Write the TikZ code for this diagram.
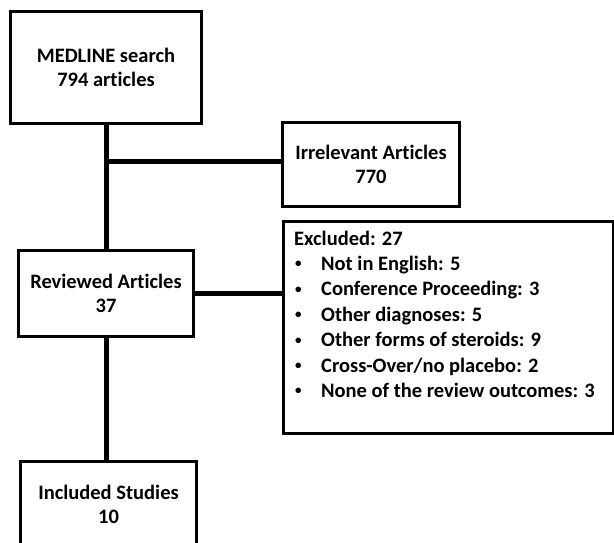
\documentclass[tikz,border=0pt]{standalone}
\usepackage{fontspec}
\setmainfont{Carlito}[Ligatures=NoCommon]
\begin{document}
\begin{tikzpicture}[x=1pt,y=-1pt,
  box/.style={draw=black, line width=1.8pt, fill=white, inner sep=0pt, align=center,
    font=\bfseries\fontsize{20.5}{24.5}\selectfont},
  txt/.style={inner sep=0pt, font=\bfseries\fontsize{20.5}{24.5}\selectfont},
  conn/.style={draw=black, line width=5pt}]
\clip (0,0) rectangle (614,543);
\fill[white] (0,0) rectangle (614,543);
\coordinate (j1) at (106,161);
% boxes
\path (106,67.5) node[box, minimum width=190pt, minimum height=111pt] (med) {MEDLINE search\\794 articles};
\path (371,164.5) node[box, minimum width=176pt, minimum height=83pt] (irr) {Irrelevant Articles\\770};
\path (106,293.5) node[box, minimum width=174pt, minimum height=85pt] (rev) {Reviewed Articles\\37};
\path (448.5,327.5) node[box, minimum width=329pt, minimum height=211pt] (excl) {};
\path (108.5,504.5) node[box, minimum width=175pt, minimum height=85pt] (inc) {Included Studies\\10};
% connectors
\draw[conn] (med.south) -- (rev.north);
\draw[conn] (rev.south) -- (rev.south |- inc.north);
\draw[conn] (j1) -- (j1 -| irr.west);
\draw[conn] (rev.east) -- (rev.east -| excl.west);
% redraw borders on top of connectors
\draw[line width=1.8pt] (med.south west) rectangle (med.north east);
\draw[line width=1.8pt] (irr.south west) rectangle (irr.north east);
\draw[line width=1.8pt] (rev.south west) rectangle (rev.north east);
\draw[line width=1.8pt] (excl.south west) rectangle (excl.north east);
\draw[line width=1.8pt] (inc.south west) rectangle (inc.north east);
% excluded list
\node[txt, anchor=base west] (exhead) at (294,245) {Excluded: 27};
\foreach \t [count=\i] in {Not in English: 5, Conference Proceeding: 3, Other diagnoses: 5, Other forms of steroids: 9, Cross-Over/no placebo: 2, None of the review outcomes: 3} {
  \node[txt, anchor=base west] (exb\i) at (295, 245+25.4*\i) {\raisebox{2.5pt}{\fontsize{13}{13}\selectfont •}};
  \node[txt, anchor=base west] (ext\i) at (321, 245+25.4*\i) {\t};
}
\end{tikzpicture}
\end{document}
